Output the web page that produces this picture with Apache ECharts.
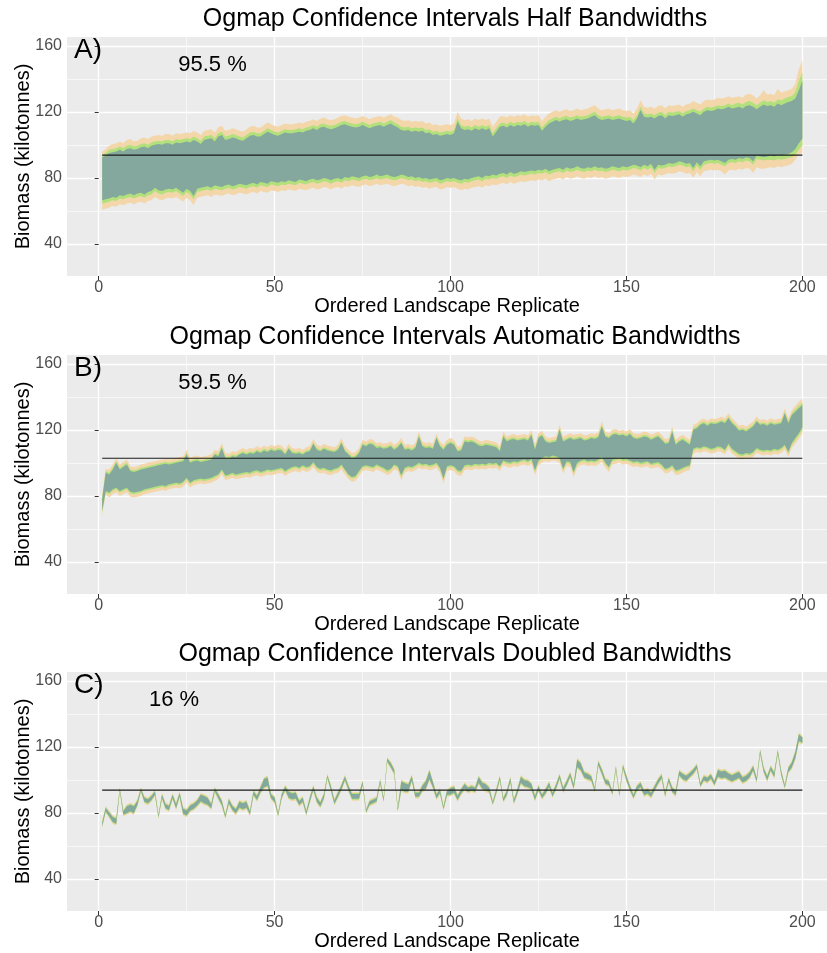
<!DOCTYPE html>
<html>
<head>
<meta charset="utf-8">
<script src="https://cdn.jsdelivr.net/npm/echarts@6/dist/echarts.min.js"></script>
<style>
html, body { margin: 0; padding: 0; background: #ffffff; }
#chart { width: 827px; height: 953px; }
</style>
</head>
<body>
<div id="chart"></div>
<script>
// Ordered landscape replicates 1..200 (x positions of every interval)
const replicates = Array.from({ length: 200 }, (_, i) => i + 1);

// Axis ticks
const xTicks = [0, 50, 100, 150, 200];
const xMinorTicks = [25, 75, 125, 175];
const yTicks = [40, 80, 120, 160];
const yMinorTicks = [60, 100, 140];

// Panel texts
const panelTitles = [
  'Ogmap Confidence Intervals Half Bandwidths',
  'Ogmap Confidence Intervals Automatic Bandwidths',
  'Ogmap Confidence Intervals Doubled Bandwidths'
];
const panelLetters = ['A)', 'B)', 'C)'];
const coverageLabels = ['95.5 %', '59.5 %', '16 %'];

// True biomass (kilotonnes) for each panel
const trueBiomass = [93.8, 102.8, 93.8];

// ---- Panel A: half bandwidths ----
const aOuterHi = [96,97.5,99.5,100.5,101,102,101,103,103.5,102, 102.5,104,104.5,103.5,105,105.5,106,105.5,106.5,106.5, 105.5,107,106.5,107,107.5,107,108.5,107.5,106,108.5, 109,109.5,107.5,110.5,111.5,108.5,109,110,109.5,108.5, 108,109.5,111,111.5,110.5,110.5,112,113.5,112.5,111.5, 111,112,113,112.5,112.5,113,113.5,113,114,114.5, 115.5,114.5,116,116.5,115.5,115,115.5,116.5,117.5,118, 117,116.5,116,116.5,117.5,116.5,115.5,116.5,117,117.5, 116.5,117.5,118.5,117,116.5,115,114.5,115,114,114.5, 114,114.5,113,113.5,112,112.5,111.5,112,112.5,112, 113,120,116,115,115.5,114.5,116,115,116,115, 116,111,114,117,117.5,116.5,118,117,118,117.5, 118.5,117,118,117.5,118,114.5,117,119,120,121, 120,121,121.5,120.5,121,122,121,121.5,122,123, 124,122,121,121.5,122,121,121.5,122,121,120.5, 121,119,122,127,123,122.5,123,122,123.5,124, 122,124,123.5,124,124.5,123,124.5,125,126.5,125.5, 124.5,126.5,127.5,127,127.5,128.5,128,128.5,129.5,128.5, 129,129.5,128.5,130.5,131,130,128,130,133,130.5, 131,130,134,131.5,132.5,133,134,137,146,151];
const aMidHi = [94,95,97,97.5,98,99,98,99.5,100,99, 99.5,100.5,101,100,101.5,102,102.5,102,103,103, 102,103.5,103,103.5,104,103.5,105,104,102.5,105, 105.5,106,104,107,108,105,105.5,106.5,106,105, 104.5,106,107.5,108,107,107,108.5,110,109,108, 107.5,108.5,109.5,109,109,109.5,110,109.5,110.5,111, 112,111,112.5,113,112,111.5,112,113,114,114.5, 113.5,113,112.5,113,114,113,112,113,113.5,114, 113,114,115,113.5,112.5,111,110.5,111,110,110.5, 110,110.5,109,109.5,108,108.5,107.5,108,108.5,108, 109,116,112,111,111.5,110.5,112,111,112,111, 112,107,110,113,113.5,112.5,114,113,114,113.5, 114.5,113,114,113.5,114,110.5,113,115,116,117, 116,117,117.5,116.5,117,118,117,117.5,118,119, 120,118,117,117.5,118,117,117.5,118,117,116.5, 117,115,118,123,119,118.5,119,118,119.5,120, 118,120,119.5,120,120.5,119,120.5,121,122,121, 120,122,123,122.5,123,124,123.5,124,125,124, 125,125.5,124.5,126,126.5,125.5,124,125.5,127,126, 126.5,125.5,127.5,127,128,129,129.5,132,139,144];
const aInnerHi = [92.5,93.5,95,95.5,96,97,96,97.5,98,97, 97.5,98.5,99,98,99.5,100,100.5,100,101,101, 100,101.5,101,101.5,102,101.5,103,102,100.5,103, 103.5,104,102,105,106,103,103.5,104.5,104,103, 102.5,104,105.5,106,105,105,106.5,108,107,106, 105.5,106.5,107.5,107,107,107.5,108,107.5,108.5,109, 110,109,110.5,111,110,109.5,110,111,112,112.5, 111.5,111,110.5,111,112,111,110,111,111.5,112, 111,112,113,111.5,110.5,109,108.5,109,108,108.5, 108,108.5,107,107.5,106,106.5,105.5,106,106.5,106, 107,114,110,109,109.5,108.5,110,109,110,109, 110,105,108,111,111.5,110.5,112,111,112,111.5, 112.5,111,112,111.5,112,108.5,111,113,114,115, 114,115,115.5,114.5,115,116,115,115.5,116,117, 118,116,115,115.5,116,115,115.5,116,115,114.5, 115,113,116,121,117,116.5,117,116,117.5,118, 116,118,117.5,118,118.5,117,118.5,119,120,119, 118,120,121,120.5,121,122,121.5,122,123,122, 122.5,123,122,123.5,124,123,121.5,123,124.5,123.5, 124,123,125,124,125,126,126.5,128,133,139];
const aInnerLo = [66.5,67,67.5,68.5,68,69.5,69,70,70.5,69.5, 70.5,71,70,71.5,72,74,72.5,72,73,73.5, 73,74,72.5,71,73.5,72,69,73.5,74,74.5, 75,74,75.5,75,74.5,75.5,76,75,75.5,76.5, 76,75.5,76.5,77,76,77.5,77,76.5,78,77.5, 77,78,77.5,78.5,78,77.5,79,78.5,78,79, 79.5,78.5,79,80,79.5,78.5,79.5,80,79,80.5, 80,81,80.5,80,81,81.5,80.5,81,82,81, 81.5,82,81,80.5,81,82,81.5,80.5,81,80, 80.5,79.5,80,79,79.5,80,78.5,79,80,79.5, 80,79,78.5,79.5,79,80,80.5,81,80,81.5, 81,82,81.5,82.5,83,82,83.5,82.5,83,84, 83.5,84,84.5,84,85,84.5,85.5,84,85,85.5, 86,85,86.5,85.5,86,87,86,85.5,86.5,86, 87,86,86.5,85.5,86,87,86.5,86,87,86.5, 87,88,87.5,86.5,88,87,88.5,85,88,87.5, 88,89,88.5,89,90,89.5,88.5,89,86,89.5, 87,90,90.5,91,90.5,91,90,89,91,91.5, 91,92,91.5,92.5,92,90,93.5,93,92.5,93, 93.5,93,94,93.5,94,94.5,95.5,97.5,101,103.8];
const aMidLo = [64.5,65,65.5,66.5,66,67.5,67,68,68.5,67.5, 68.5,69,68,69.5,70,72,70.5,70,71,71.5, 71,72,70.5,69,71.5,70,67,71.5,72,72.5, 73,72,73.5,73,72.5,73.5,74,73,73.5,74.5, 74,73.5,74.5,75,74,75.5,75,74.5,76,75.5, 75,76,75.5,76.5,76,75.5,77,76.5,76,77, 77.5,76.5,77,78,77.5,76.5,77.5,78,77,78.5, 78,79,78.5,78,79,79.5,78.5,79,80,79, 79.5,80,79,78.5,79,80,79.5,78.5,79,78, 78.5,77.5,78,77,77.5,78,76.5,77,78,77.5, 78,77,76.5,77.5,77,78,78.5,79,78,79.5, 79,80,79.5,80.5,81,80,81.5,80.5,81,82, 81.5,82,82.5,82,83,82.5,83.5,82,83,83.5, 84,83,84.5,83.5,84,85,84,83.5,84.5,84, 85,84,84.5,83.5,84,85,84.5,84,85,84.5, 85,86,85.5,84.5,86,85,86.5,83,86,85.5, 86,87,86.5,87,88,87.5,86.5,87,84,87.5, 85,88,88.5,89,88.5,89,88,87,89,89.5, 89,90,89.5,90.5,90,88,91.5,91,90.5,91, 91,90.5,91.5,91,91.5,92,92.5,94,97,99.8];
const aOuterLo = [60.5,61.5,62,63,62.5,64,63.5,64.5,65,64, 65,65.5,64.5,66,66.5,68.5,67,66.5,67.5,68, 67.5,68.5,67,65.5,68,66.5,63.5,68,68.5,69, 69.5,68.5,70,69.5,69,70,70.5,69.5,70,71, 70.5,70,71,71.5,70.5,72,71.5,71,72.5,72, 71.5,72.5,72,73,72.5,72,73.5,73,72.5,73.5, 74,73,73.5,74.5,74,73,74,74.5,73.5,75, 74.5,75.5,75,74.5,75.5,76,75,75.5,76.5,75.5, 76,76.5,75.5,75,75.5,76.5,76,75,75.5,74.5, 75,74,74.5,73.5,74,74.5,73,73.5,74.5,74, 74.5,73.5,72.5,73.5,73,74,74.5,75,74,75.5, 75,76,75.5,76.5,77,76,77.5,76.5,77,78, 77.5,78,78.5,78,79,78.5,79.5,78,79,79.5, 80,79,80.5,79.5,80,81,80,79.5,80.5,80, 81,80,80.5,79.5,80,81,80.5,80,81,80.5, 81,82,81.5,80.5,82,81,82.5,79,82,81.5, 82,83,82.5,83,84,83.5,82.5,83,80,83.5, 81,84,84.5,85,84.5,85,84,82,84.5,85, 84.5,85.5,85,86,85.5,83,86.5,85.5,85.5,86, 86.5,86,87,86.5,87,87.5,88.5,91,94.5,95];

// ---- Panel B: automatic bandwidths ----
const bOuterHi = [80.5,96.5,96,99,103,99,100.5,102,98,97.5, 98,99,99.5,100,100.5,101,101.5,102,102.5,102, 102.5,103,103.5,104,108,103,104,104.5,103.5,104, 104.5,105,108,107,112,106,105.5,107,106.5,108, 109,108,109,108.5,110,109,110.5,109.5,111,110, 111,110.5,108,111.5,109,108.5,109,108,109.5,110, 114.5,111,110,111.5,110.5,110,109.5,111,115,110, 108,106,106.5,109,114,113,114.5,114,112,112.5, 111.5,112,113,111,112.5,115,111,111.5,110.5,112, 119,113,112,112.5,111.5,118,113,111,114,115, 114,110,110.5,116,115.5,116,115,113.5,113,114, 113.5,113,112.5,110,119,116,117,117.5,116.5,117, 117.5,116.5,120,111,118,119.5,116,115,115.5,116, 123,116,117,118,117,117.5,118,116.5,117,118, 117.5,118.5,125,119,118,120,120.5,119.5,120,119, 120.5,118,117.5,118,119,118.5,117,118,119,117, 114.5,115,122,114,116,117,115.5,114,123,124, 126,127,125.5,127,126.5,127,128,127,130,127, 125,122.5,123,122,123.5,125,128,126,126.5,125.5, 127,126,126.5,127,133,127,132,134.5,137,139];
const bMidHi = [79,95,94,97,101,97,98.5,100,96,95.5, 96,97,97.5,98,98.5,99,99.5,100,100.5,100, 100.5,101,101.5,102,106,101,102,102.5,101.5,102, 102.5,103,106,105,110,104,103.5,105,104.5,106, 107,106,107,106.5,108,107,108.5,107.5,109,108, 109,108.5,106,109.5,107,106.5,107,106,107.5,108, 112.5,109,108,109.5,108.5,108,107.5,109,113,108, 106,104,104.5,107,112,111,112.5,112,110,110.5, 109.5,110,111,109,110.5,113,109,109.5,108.5,110, 117,111,110,110.5,109.5,116,111,109,112,113, 112,108,108.5,114,113.5,114,113,111.5,111,112, 111.5,111,110.5,108,117,114,115,115.5,114.5,115, 115.5,114.5,118,109,116,117.5,114,113,113.5,114, 121,114,115,116,115,115.5,116,114.5,115,116, 115.5,116.5,123,117,116,118,118.5,117.5,118,117, 118.5,116,115.5,116,117,116.5,115,116,117,115, 112.5,113,120,112,114,115,113.5,112,121,122, 124,125,123.5,125,124.5,125,126,125,128,125, 123,120.5,121,120,121.5,123,126,124,124.5,123.5, 125,124,124.5,125,131,125,130,132.5,134.5,136.5];
const bInnerHi = [78,94,93,96,100,96,97.5,99,95,94.5, 95,96,96.5,97,97.5,98,98.5,99,99.5,99, 99.5,100,100.5,101,105,100,101,101.5,100.5,101, 101.5,102,105,104,109,103,102.5,104,103.5,105, 106,105,106,105.5,107,106,107.5,106.5,108,107, 108,107.5,105,108.5,106,105.5,106,105,106.5,107, 111.5,108,107,108.5,107.5,107,106.5,108,112,107, 105,103,103.5,106,111,110,111.5,111,109,109.5, 108.5,109,110,108,109.5,112,108,108.5,107.5,109, 116,110,109,109.5,108.5,115,110,108,111,112, 111,107,107.5,113,112.5,113,112,110.5,110,111, 110.5,110,109.5,107,116,113,114,114.5,113.5,114, 114.5,113.5,117,108,115,116.5,113,112,112.5,113, 120,113,114,115,114,114.5,115,113.5,114,115, 114.5,115.5,122,116,115,117,117.5,116.5,117,116, 117.5,115,114.5,115,116,115.5,114,115,116,114, 111.5,112,119,111,113,114,112.5,111,120,121, 123,124,122.5,124,123.5,124,125,124,127,124, 122,119.5,120,119,120.5,122,125,123,123.5,122.5, 124,123,123.5,124,130,124,129,131,133,135];
const bInnerLo = [71,83,82,84,85,83,84,85,82.5,82, 82.5,83,84,84.5,85,85.5,86,86.5,86,87, 87.5,88,87.5,88.5,91,88,89.5,90,90.5,90, 90.5,91,92,93,96,92.5,93,94,93,93.5, 94,94.5,94,95,95.5,94.5,95,96,95.5,96, 96.5,97,95,96.5,97.5,98,97,98.5,97.5,98, 100.5,97.5,96.5,97,96,95.5,96.5,97,99,96, 93,91.5,92,95,98,98.5,98,97.5,99,98, 97,95.5,96.5,99,98,92.5,97,98,97.5,98.5, 100,99,99.5,98.5,99,100,97,90.5,98,98.5, 98,95.5,95,98.5,99,98.5,99.5,99,99.5,99, 100,99.5,100,98,101.5,100.5,100,101,100.5,101.5, 102,101,102.5,95.5,101.5,103,104,103.5,104.5,104, 103,96.5,101,100.5,94.5,100,101.5,102,101,101.5, 101,102,103.5,100,97.5,102,102.5,103,102,102.5, 101.5,100.5,101,100,100.5,101,99.5,100,100.5,99, 96.5,97,98.5,95.5,96,97,98,98.5,108.5,109.5, 109,110,109.5,108.5,109,110,109.5,108,111.5,108.5, 107,105.5,105,106,105.5,106.5,109,108,107.5,108, 107.5,108.5,108,109,111,106.5,112,115,118,121.5];
const bMidLo = [70,82,81,83,84,82,83,84,81.5,81, 81.5,82,83,83.5,84,84.5,85,85.5,85,86, 86.5,87,86.5,87.5,90,87,88.5,89,89.5,89, 89.5,90,91,92,95,91.5,92,93,92,92.5, 93,93.5,93,94,94.5,93.5,94,95,94.5,95, 95.5,96,94,95.5,96.5,97,96,97.5,96.5,97, 99.5,96.5,95.5,96,95,94.5,95.5,96,98,95, 92,90.5,91,94,97,97.5,97,96.5,98,97, 96,94.5,95.5,98,97,91.5,96,97,96.5,97.5, 99,98,98.5,97.5,98,99,96,89.5,97,97.5, 97,94.5,94,97.5,98,97.5,98.5,98,98.5,98, 99,98.5,99,97,100.5,99.5,99,100,99.5,100.5, 101,100,101.5,94.5,100.5,102,103,102.5,103.5,103, 102,95.5,100,99.5,93.5,99,100.5,101,100,100.5, 100,101,102.5,99,96.5,101,101.5,102,101,101.5, 100.5,99.5,100,99,99.5,100,98.5,99,99.5,98, 95.5,96,97.5,94.5,95,96,97,97.5,107.5,108.5, 108,109,108.5,107.5,108,109,108.5,107,110.5,107.5, 106,104.5,104,105,104.5,105.5,108,107,106.5,107, 106.5,107.5,107,108,110,105.5,111,113.5,116.5,120];
const bOuterLo = [68.5,80.5,79,81,82,80,81,82,79.5,79, 79.5,80,81,81.5,82,82.5,83,83.5,83,84, 84.5,85,84.5,85.5,88,85,86.5,87,87.5,87, 87.5,88,89,90,93,89.5,90,91,90,90.5, 91,91.5,91,92,92.5,91.5,92,93,92.5,93, 93.5,94,92,93.5,94.5,95,94,95.5,94.5,95, 97.5,94.5,93.5,94,93,92.5,93.5,94,96,93, 90,88.5,89,92,95,95.5,95,94.5,96,95, 94,92.5,93.5,96,95,89.5,94,95,94.5,95.5, 97,96,96.5,95.5,96,97,94,87.5,95,95.5, 95,92.5,92,95.5,96,95.5,96.5,96,96.5,96, 97,96.5,97,95,98.5,97.5,97,98,97.5,98.5, 99,98,99.5,92.5,98.5,100,101,100.5,101.5,101, 100,93.5,98,97.5,91.5,97,98.5,99,98,98.5, 98,99,100.5,97,94.5,99,99.5,100,99,99.5, 98.5,97.5,98,97,97.5,98,96.5,97,97.5,96, 93.5,94,95.5,92.5,93,94,95,95.5,105.5,106.5, 106,107,106.5,105.5,106,107,106.5,105,108.5,105.5, 104,102.5,102,103,102.5,103.5,106,105,104.5,105, 104.5,105.5,105,106,108,103.5,109,111.5,114.5,118];

// ---- Panel C: doubled bandwidths ----
const cOuterHi = [75.2,84.2,81.4,78.7,77.7,95.8,82.2,85.2,86.2,85.2, 88.4,95.8,90.4,89.4,91.4,94.2,79.8,92.2,86.4,85.4, 92.2,86.4,93.2,83.7,82.7,85.7,86.7,88.7,92.2,91.4, 90.2,86.4,96,92.4,88.4,79.8,89.4,85.4,83.4,88, 87,88,82,94.2,91.4,96.7,101.7,102.7,92.4,90.4, 80.8,92.2,97.2,94,93,93.5,88.4,90.4,82,90.4, 97.2,90.4,87.4,92.4,103.8,97.4,88.7,93.4,97.9,103.2, 97.4,92.7,92.7,92.7,100,82.8,88.2,89.2,90.2,101, 90,114,111.4,107.2,83.8,100.2,99.2,98.4,103.4,93.4, 93.4,97.7,100.4,106.7,99.7,92.4,95.2,84.8,94.4,96, 97,91.4,95.4,98.7,96.4,97.4,96.4,103,99.5,98.5, 96.4,87.8,95.2,103,90,94.4,102.2,89,95.4,103, 101,100.5,98.7,91.2,97.4,92.2,95.4,99.4,93.2,98.4, 104.2,96.2,100.4,105.2,98.4,113.4,111.2,105.7,104.7,103.4, 96,112.2,107.4,101.4,100.4,93.8,109,92.8,110,103.4, 97.4,92,97.4,99.4,94.4,95.4,93.4,97.4,101.4,104.2, 93,102.2,96.4,94.4,106.4,104.7,103.7,105.4,107.4,110.2, 99,103.4,102.4,104.4,100.2,107.2,106.2,106.7,105,104, 105,106,102.7,103.7,105.7,109.4,102.2,119,108.2,103.4, 109.2,105.4,119,106.2,97.8,108.4,111.7,118,128.7,126.8];
const cMidHi = [74.5,83.5,80.7,78,77,95.1,81.5,84.5,85.5,84.5, 87.7,95.1,89.7,88.7,90.7,93.5,79.1,91.5,85.7,84.7, 91.5,85.7,92.5,83,82,85,86,88,91.5,90.7, 89.5,85.7,95.3,91.7,87.7,79.1,88.7,84.7,82.7,87.3, 86.3,87.3,81.3,93.5,90.7,96,101,102,91.7,89.7, 80.1,91.5,96.5,93.3,92.3,92.8,87.7,89.7,81.3,89.7, 96.5,89.7,86.7,91.7,103.1,96.7,88,92.7,97.2,102.5, 96.7,92,92,92,99.3,82.1,87.5,88.5,89.5,100.3, 89.3,113.3,110.7,106.5,83.1,99.5,98.5,97.7,102.7,92.7, 92.7,97,99.7,106,99,91.7,94.5,84.1,93.7,95.3, 96.3,90.7,94.7,98,95.7,96.7,95.7,102.3,98.8,97.8, 95.7,87.1,94.5,102.3,89.3,93.7,101.5,88.3,94.7,102.3, 100.3,99.8,98,90.5,96.7,91.5,94.7,98.7,92.5,97.7, 103.5,95.5,99.7,104.5,97.7,112.7,110.5,105,104,102.7, 95.3,111.5,106.7,100.7,99.7,93.1,108.3,92.1,109.3,102.7, 96.7,91.3,96.7,98.7,93.7,94.7,92.7,96.7,100.7,103.5, 92.3,101.5,95.7,93.7,105.7,104,103,104.7,106.7,109.5, 98.3,102.7,101.7,103.7,99.5,106.5,105.5,106,104.3,103.3, 104.3,105.3,102,103,105,108.7,101.5,118.3,107.5,102.7, 108.5,104.7,118.3,105.5,97.1,107.7,111,117.3,128,126.1];
const cInnerHi = [74,83,80.2,77.5,76.5,94.6,81,84,85,84, 87.2,94.6,89.2,88.2,90.2,93,78.6,91,85.2,84.2, 91,85.2,92,82.5,81.5,84.5,85.5,87.5,91,90.2, 89,85.2,94.8,91.2,87.2,78.6,88.2,84.2,82.2,86.8, 85.8,86.8,80.8,93,90.2,95.5,100.5,101.5,91.2,89.2, 79.6,91,96,92.8,91.8,92.3,87.2,89.2,80.8,89.2, 96,89.2,86.2,91.2,102.6,96.2,87.5,92.2,96.7,102, 96.2,91.5,91.5,91.5,98.8,81.6,87,88,89,99.8, 88.8,112.8,110.2,106,82.6,99,98,97.2,102.2,92.2, 92.2,96.5,99.2,105.5,98.5,91.2,94,83.6,93.2,94.8, 95.8,90.2,94.2,97.5,95.2,96.2,95.2,101.8,98.3,97.3, 95.2,86.6,94,101.8,88.8,93.2,101,87.8,94.2,101.8, 99.8,99.3,97.5,90,96.2,91,94.2,98.2,92,97.2, 103,95,99.2,104,97.2,112.2,110,104.5,103.5,102.2, 94.8,111,106.2,100.2,99.2,92.6,107.8,91.6,108.8,102.2, 96.2,90.8,96.2,98.2,93.2,94.2,92.2,96.2,100.2,103, 91.8,101,95.2,93.2,105.2,103.5,102.5,104.2,106.2,109, 97.8,102.2,101.2,103.2,99,106,105,105.5,103.8,102.8, 103.8,104.8,101.5,102.5,104.5,108.2,101,117.8,107,102.2, 108,104.2,117.8,105,96.6,107.2,110.5,116.8,127.5,125.6];
const cInnerLo = [72,81,77.8,74.5,73.5,93.4,79,80,81,80, 84.8,93.4,86.8,85.8,87.8,91,77.4,89,82.8,81.8, 89,82.8,90,79.5,78.5,81.5,82.5,84.5,87,85.8, 85,82.8,93.2,88.8,84.8,77.4,85.8,81.8,79.8,83.2, 82.2,83.2,79.2,91,87.8,92.5,95.5,96.5,88.8,86.8, 78.4,89,94,89.2,88.2,88.7,84.8,86.8,79.2,86.8, 94,86.8,83.8,88.8,101.4,93.8,85.5,89.8,94.3,100, 93.8,88.5,88.5,88.5,97.2,80.4,85,86,87,98.2, 87.2,111.2,107.8,104,81.4,94,93,92.8,99.8,89.8, 89.8,93.5,94.8,100.5,95.5,88.8,92,82.4,90.8,91.2, 92.2,87.8,91.8,94.5,92.8,93.8,92.8,98.2,94.7,93.7, 92.8,85.4,92,100.2,87.2,90.8,99,86.2,91.8,98.2, 96.2,95.7,94.5,88,93.8,89,91.8,95.8,90,94.8, 101,93,96.8,102,94.8,107.8,106,101.5,100.5,99.8, 93.2,109,103.8,97.8,96.8,91.4,106.2,90.4,107.2,99.8, 93.8,89.2,93.8,95.8,90.8,91.8,89.8,93.8,97.8,101, 90.2,99,92.8,90.8,102.8,100.5,99.5,101.8,103.8,107, 96.2,99.8,98.8,100.8,97,102,101,101.5,100.2,99.2, 100.2,101.2,98.5,99.5,101.5,105.8,99,116.2,105,99.8, 106,101.8,116.2,103,95.4,104.8,107.5,113.2,123.5,122.4];
const cMidLo = [71.5,80.5,77.3,74,73,92.9,78.5,79.5,80.5,79.5, 84.3,92.9,86.3,85.3,87.3,90.5,76.9,88.5,82.3,81.3, 88.5,82.3,89.5,79,78,81,82,84,86.5,85.3, 84.5,82.3,92.7,88.3,84.3,76.9,85.3,81.3,79.3,82.7, 81.7,82.7,78.7,90.5,87.3,92,95,96,88.3,86.3, 77.9,88.5,93.5,88.7,87.7,88.2,84.3,86.3,78.7,86.3, 93.5,86.3,83.3,88.3,100.9,93.3,85,89.3,93.8,99.5, 93.3,88,88,88,96.7,79.9,84.5,85.5,86.5,97.7, 86.7,110.7,107.3,103.5,80.9,93.5,92.5,92.3,99.3,89.3, 89.3,93,94.3,100,95,88.3,91.5,81.9,90.3,90.7, 91.7,87.3,91.3,94,92.3,93.3,92.3,97.7,94.2,93.2, 92.3,84.9,91.5,99.7,86.7,90.3,98.5,85.7,91.3,97.7, 95.7,95.2,94,87.5,93.3,88.5,91.3,95.3,89.5,94.3, 100.5,92.5,96.3,101.5,94.3,107.3,105.5,101,100,99.3, 92.7,108.5,103.3,97.3,96.3,90.9,105.7,89.9,106.7,99.3, 93.3,88.7,93.3,95.3,90.3,91.3,89.3,93.3,97.3,100.5, 89.7,98.5,92.3,90.3,102.3,100,99,101.3,103.3,106.5, 95.7,99.3,98.3,100.3,96.5,101.5,100.5,101,99.7,98.7, 99.7,100.7,98,99,101,105.3,98.5,115.7,104.5,99.3, 105.5,101.3,115.7,102.5,94.9,104.3,107,112.7,123,121.9];
const cOuterLo = [70.8,79.8,76.6,73.3,72.3,92.2,77.8,78.8,79.8,78.8, 83.6,92.2,85.6,84.6,86.6,89.8,76.2,87.8,81.6,80.6, 87.8,81.6,88.8,78.3,77.3,80.3,81.3,83.3,85.8,84.6, 83.8,81.6,92,87.6,83.6,76.2,84.6,80.6,78.6,82, 81,82,78,89.8,86.6,91.3,94.3,95.3,87.6,85.6, 77.2,87.8,92.8,88,87,87.5,83.6,85.6,78,85.6, 92.8,85.6,82.6,87.6,100.2,92.6,84.3,88.6,93.1,98.8, 92.6,87.3,87.3,87.3,96,79.2,83.8,84.8,85.8,97, 86,110,106.6,102.8,80.2,92.8,91.8,91.6,98.6,88.6, 88.6,92.3,93.6,99.3,94.3,87.6,90.8,81.2,89.6,90, 91,86.6,90.6,93.3,91.6,92.6,91.6,97,93.5,92.5, 91.6,84.2,90.8,99,86,89.6,97.8,85,90.6,97, 95,94.5,93.3,86.8,92.6,87.8,90.6,94.6,88.8,93.6, 99.8,91.8,95.6,100.8,93.6,106.6,104.8,100.3,99.3,98.6, 92,107.8,102.6,96.6,95.6,90.2,105,89.2,106,98.6, 92.6,88,92.6,94.6,89.6,90.6,88.6,92.6,96.6,99.8, 89,97.8,91.6,89.6,101.6,99.3,98.3,100.6,102.6,105.8, 95,98.6,97.6,99.6,95.8,100.8,99.8,100.3,99,98, 99,100,97.3,98.3,100.3,104.6,97.8,115,103.8,98.6, 104.8,100.6,115,101.8,94.2,103.6,106.3,112,122.3,121.2];

// Nested interval bands per panel, widest first
const panelBands = [
  [[aOuterLo, aOuterHi], [aMidLo, aMidHi], [aInnerLo, aInnerHi]],
  [[bOuterLo, bOuterHi], [bMidLo, bMidHi], [bInnerLo, bInnerHi]],
  [[cOuterLo, cOuterHi], [cMidLo, cMidHi], [cInnerLo, cInnerHi]]
];
const bandColors = ['#f3d7ab', '#b2e07c', '#84a89d'];

const FONT = '"Liberation Sans", Arial, Helvetica, sans-serif';
const gridTops = [37, 355, 672];
const PANEL_H = 239;
const X_MIN = -9, X_MAX = 207;
const Y_MIN = 20.6, Y_MAX = 165.3;

const grids = gridTops.map(t => ({
  left: 67, right: 0, top: t, height: PANEL_H,
  show: true, backgroundColor: '#ebebeb', borderWidth: 0,
  containLabel: false, outerBoundsMode: 'none'
}));

const majorX = gridTops.map((t, p) => ({
  type: 'value', gridIndex: p, min: X_MIN, max: X_MAX, position: 'bottom',
  name: 'Ordered Landscape Replicate', nameLocation: 'middle', nameGap: 20,
  nameMoveOverlap: false,
  nameTextStyle: { fontSize: 20, color: '#000', fontFamily: FONT },
  axisLine: { show: false },
  axisTick: { show: true, length: 4, lineStyle: { color: '#333', width: 1 }, customValues: xTicks },
  axisLabel: { show: true, customValues: xTicks, fontSize: 16, color: '#4d4d4d', fontFamily: FONT, margin: 4 },
  splitLine: { show: true, lineStyle: { color: '#ffffff', width: 1.3 } }
}));
const minorX = gridTops.map((t, p) => ({
  type: 'value', gridIndex: p, min: X_MIN, max: X_MAX, position: 'top',
  axisLine: { show: false },
  axisTick: { show: false, customValues: xMinorTicks },
  axisLabel: { show: false },
  splitLine: { show: true, lineStyle: { color: '#ffffff', width: 0.6 } }
}));
const majorY = gridTops.map((t, p) => ({
  type: 'value', gridIndex: p, min: Y_MIN, max: Y_MAX, position: 'left',
  name: 'Biomass (kilotonnes)', nameLocation: 'middle', nameGap: 34, nameRotate: 90,
  nameMoveOverlap: false,
  nameTextStyle: { fontSize: 20, color: '#000', fontFamily: FONT },
  axisLine: { show: false },
  axisTick: { show: true, length: 4, lineStyle: { color: '#333', width: 1 }, customValues: yTicks },
  axisLabel: { show: true, customValues: yTicks, fontSize: 16, color: '#4d4d4d', fontFamily: FONT, margin: 5 },
  splitLine: { show: true, lineStyle: { color: '#ffffff', width: 1.3 } }
}));
const minorY = gridTops.map((t, p) => ({
  type: 'value', gridIndex: p, min: Y_MIN, max: Y_MAX, position: 'right',
  axisLine: { show: false },
  axisTick: { show: false, customValues: yMinorTicks },
  axisLabel: { show: false },
  splitLine: { show: true, lineStyle: { color: '#ffffff', width: 0.6 } }
}));

// One filled polygon per band: upper edge left to right, lower edge back
function bandSeries(p, lo, hi, color) {
  return {
    type: 'custom', xAxisIndex: p, yAxisIndex: p, silent: true, clip: true,
    data: replicates.map((r, i) => [r, lo[i], hi[i]]),
    encode: { x: 0, y: [1, 2] },
    renderItem: function (params, api) {
      if (params.dataIndex !== 0) return null;
      const pts = [];
      for (let i = 0; i < replicates.length; i++) pts.push(api.coord([replicates[i], hi[i]]));
      for (let i = replicates.length - 1; i >= 0; i--) pts.push(api.coord([replicates[i], lo[i]]));
      return { type: 'polygon', shape: { points: pts }, style: { fill: color, stroke: null } };
    }
  };
}

const series = [];
panelBands.forEach((bands, p) => {
  bands.forEach(([lo, hi], k) => series.push(bandSeries(p, lo, hi, bandColors[k])));
  series.push({
    type: 'line', xAxisIndex: p, yAxisIndex: p,
    data: [[replicates[0], trueBiomass[p]], [replicates[replicates.length - 1], trueBiomass[p]]],
    symbol: 'none', silent: true, lineStyle: { color: '#1a1a1a', width: 1.2 }
  });
});

const coverageX = [212.5, 212.5, 174];
const graphic = [];
gridTops.forEach((t, p) => {
  graphic.push({ type: 'text', x: 455, y: t - 18, z: 100, silent: true,
    style: { text: panelTitles[p], font: '25px ' + FONT, fill: '#000', align: 'center', verticalAlign: 'middle' } });
  graphic.push({ type: 'text', x: 74, y: t + 13, z: 100, silent: true,
    style: { text: panelLetters[p], font: '28px ' + FONT, fill: '#000', align: 'left', verticalAlign: 'middle' } });
  graphic.push({ type: 'text', x: coverageX[p], y: t + 28, z: 100, silent: true,
    style: { text: coverageLabels[p], font: '22px ' + FONT, fill: '#000', align: 'center', verticalAlign: 'middle' } });
});

const chart = echarts.init(document.getElementById('chart'), null, { renderer: 'canvas' });
chart.setOption({
  animation: false,
  backgroundColor: '#ffffff',
  grid: grids,
  xAxis: majorX.concat(minorX),
  yAxis: majorY.concat(minorY),
  series: series,
  graphic: graphic
});
</script>
</body>
</html>
